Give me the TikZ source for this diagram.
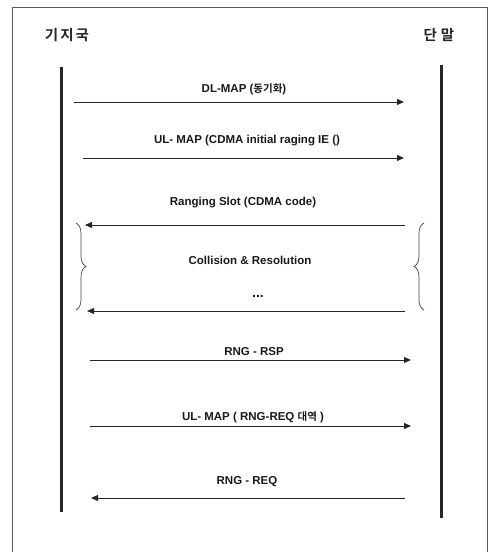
\documentclass[tikz,border=0pt]{standalone}
\usepackage{fontspec}
\setmainfont{Liberation Sans}
\newfontfamily\kr{Noto Sans CJK KR}[BoldFont={Noto Sans CJK KR Bold}]
\newcommand{\kw}[1]{{\kr\bfseries\fontsize{10.5}{12}\selectfont #1}}
\usetikzlibrary{arrows.meta,decorations.pathreplacing}
\begin{document}
\begin{tikzpicture}[x=1pt,y=-1pt,
  frameline/.style={draw=black!65,line width=0.9pt},
  lifeline/.style={line width=3pt,black!85},
  msg/.style={line width=1pt,black!85,-{Triangle[length=7pt,width=6pt]}},
  lbl/.style={font=\bfseries\fontsize{11.5}{13}\selectfont,inner sep=0pt,text=black!90},
  head/.style={font=\kr\bfseries\fontsize{14.5}{16}\selectfont,inner sep=0pt,text=black!85},
  curly/.style={draw=black!75,line width=0.7pt,decorate,decoration={brace,amplitude=10pt}}]
\useasboundingbox (0,0) rectangle (490,552);
% frame
\draw[frameline] (12,552) -- (12,7) -- (487,7) -- (487,552);
% headers
\node[head] (bs) at (67,35) {기\hspace{2pt}지\hspace{2pt}국};
\node[head] (ms) at (439,35) {단\hspace{4pt}말};
% lifelines
\coordinate (bsT) at (61,67);
\coordinate (bsB) at (61,512);
\coordinate (msT) at (441,65);
\coordinate (msB) at (441,518);
\draw[lifeline] (bsT) -- (bsB);
\draw[lifeline] (msT) -- (msB);
% message end points
\coordinate (a1s) at (74,102);  \coordinate (a1e) at (404,102);
\coordinate (a2s) at (83,158);  \coordinate (a2e) at (404,158);
\coordinate (a3s) at (405,225); \coordinate (a3e) at (85,225);
\coordinate (a4s) at (405,311); \coordinate (a4e) at (87,311);
\coordinate (a5s) at (90,360);  \coordinate (a5e) at (411,360);
\coordinate (a6s) at (90,426);  \coordinate (a6e) at (411,426);
\coordinate (a7s) at (405,498); \coordinate (a7e) at (91,498);
\draw[msg] (a1s) -- (a1e);
\draw[msg] (a2s) -- (a2e);
\draw[msg] (a3s) -- (a3e);
\draw[msg] (a4s) -- (a4e);
\draw[msg] (a5s) -- (a5e);
\draw[msg] (a6s) -- (a6e);
\draw[msg] (a7s) -- (a7e);
% labels
\node[lbl] (l1) at (244,89) {DL-MAP (\kw{동기화})};
\node[lbl] (l2) at (247,141) {UL- MAP (CDMA initial raging IE ()};
\node[lbl] (l3) at (243,203) {Ranging Slot (CDMA code)};
\node[lbl] (l4) at (250,260) {Collision \& Resolution};
\node[lbl,font=\bfseries\fontsize{14}{14}\selectfont] (l5) at (258,296) {...};
\node[lbl] (l6) at (254,352) {RNG - RSP};
\node[lbl] (l7) at (253,417) {UL- MAP ( RNG-REQ \kw{대역} )};
\node[lbl] (l8) at (247,482) {RNG - REQ};
% braces
\coordinate (bl1) at (76,223); \coordinate (bl2) at (76,310);
\coordinate (br1) at (424,310); \coordinate (br2) at (424,223);
\draw[curly] (bl1) -- (bl2);
\draw[curly] (br1) -- (br2);
\end{tikzpicture}
\end{document}
